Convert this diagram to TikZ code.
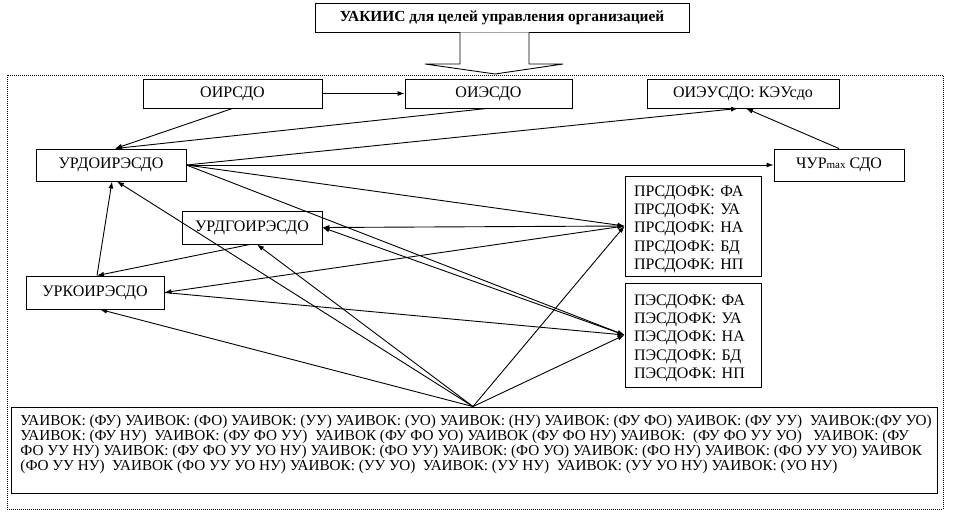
\documentclass[tikz,border=0pt]{standalone}
\usepackage{fontspec}
\setmainfont{Liberation Serif}
\usetikzlibrary{arrows.meta}
\newcommand\fsz{\fontsize{16}{18}\selectfont}
\newcommand\fszb{\fontsize{15.2}{16}\selectfont}
\begin{document}
\begin{tikzpicture}[x=1pt,y=-1pt, line width=0.9pt,
  box/.style={draw, rectangle, inner sep=0pt, font=\fsz},
  listbox/.style={draw, rectangle, inner xsep=9pt, inner ysep=0pt, align=left, text width=118pt, font=\fontsize{16}{18.3}\selectfont},
  txt/.style={anchor=base west, inner sep=0pt, font=\fszb},
  arr/.style={-{Latex[length=7pt,width=5pt]}},
  darr/.style={{Latex[length=7pt,width=5pt]}-{Latex[length=7pt,width=5pt]}}]
\useasboundingbox (0,0) rectangle (967,523);

% frame
\draw[dash pattern=on 1pt off 1pt, line width=0.7pt] (7,75) rectangle (943,509);

% title and block arrow
\node[box, font=\fontsize{15.4}{17}\selectfont\bfseries, minimum width=374pt, minimum height=29pt] (top) at (502,17.5) {УАКИИС для целей управления организацией};
\draw[fill=white] ([xshift=-42pt]top.south) -- (460,64) -- (425,64) -- (495,74) -- (563,64) -- (529,64) -- ([xshift=27pt]top.south);

% boxes
\node[box, minimum width=179pt, minimum height=29pt] (oirsdo) at (232.5,93.5) {ОИРСДО};
\node[box, minimum width=167pt, minimum height=29pt] (oiesdo) at (488.5,93.5) {ОИЭСДО};
\node[box, minimum width=192pt, minimum height=29pt] (oieusdo) at (743,93.5) {ОИЭУСДО: КЭУсдо};
\node[box, minimum width=150pt, minimum height=32pt] (urdo) at (111,165) {УРДОИРЭСДО};
\node[box, minimum width=130pt, minimum height=32pt] (chur) at (839,165) {ЧУР{\fontsize{11}{12}\selectfont max} СДО};
\node[box, minimum width=140pt, minimum height=33pt] (urdgo) at (252,227.5) {УРДГОИРЭСДО};
\node[box, minimum width=138pt, minimum height=33pt] (urko) at (95,292.5) {УРКОИРЭСДО};
\node[listbox, minimum height=100pt] (prs) at (693,226) {\rule{0pt}{17pt}ПРСДОФК: ФА\\ПРСДОФК: УА\\ПРСДОФК: НА\\ПРСДОФК: БД\\ПРСДОФК: НП};
\node[listbox, minimum height=104pt] (pes) at (693,335) {\rule{0pt}{17pt}ПЭСДОФК: ФА\\ПЭСДОФК: УА\\ПЭСДОФК: НА\\ПЭСДОФК: БД\\ПЭСДОФК: НП};
\node[draw, rectangle, minimum width=926pt, minimum height=86pt, inner sep=0pt] (bot) at (474,450) {};
\node[txt] (l1) at (20,425) {УАИВОК: (ФУ) УАИВОК: (ФО) УАИВОК: (УУ) УАИВОК: (УО) УАИВОК: (НУ) УАИВОК: (ФУ ФО) УАИВОК: (ФУ УУ) \ УАИВОК:(ФУ УО)};
\node[txt] (l2) at (20,440.3) {УАИВОК: (ФУ НУ) \ УАИВОК: (ФУ ФО УУ) \ УАИВОК (ФУ ФО УО) УАИВОК (ФУ ФО НУ) УАИВОК: \ (ФУ ФО УУ УО) \ \ УАИВОК: (ФУ};
\node[txt] (l3) at (20,455.6) {ФО УУ НУ) УАИВОК: (ФУ ФО УУ УО НУ) УАИВОК: (ФО УУ) УАИВОК: (ФО УО) УАИВОК: (ФО НУ) УАИВОК: (ФО УУ УО) УАИВОК};
\node[txt] (l4) at (20,470.9) {(ФО УУ НУ) \ УАИВОК (ФО УУ УО НУ) УАИВОК: (УУ УО) \ УАИВОК: (УУ НУ) \ УАИВОК: (УУ УО НУ) УАИВОК: (УО НУ)};

% connectors
\draw[arr] (oirsdo.east) -- (oiesdo.west);
\draw[arr] (oirsdo.south) -- ([xshift=4pt]urdo.north);
\draw[arr] ([xshift=-1.5pt]oiesdo.south) -- ([xshift=4pt]urdo.north);
\draw[arr] (urdo.east) -- ([xshift=-5pt]oieusdo.south);
\draw[arr] (chur.north) -- ([xshift=3pt]oieusdo.south);
\draw[arr] (urdo.east) -- (chur.west);
\draw[arr] (urdo.east) -- (prs.west);
\draw[arr] (urdo.east) -- (pes.west);
\draw[darr] (urdgo.east) -- (prs.west);
\draw[darr] (urdgo.east) -- (pes.west);
\draw[darr] (urko.east) -- (prs.west);
\draw[arr] (urko.east) -- (pes.west);
\draw[arr] ([xshift=-2pt]urdgo.south) -- ([xshift=2pt]urko.north);
\draw[arr] ([xshift=2pt]urko.north) -- ([xshift=1pt]urdo.south);
\draw[arr] ([xshift=-1pt]bot.north) -- ([xshift=5pt]urko.south);
\draw[arr] ([xshift=-1pt]bot.north) -- ([xshift=6pt]urdo.south);
\draw[arr] ([xshift=-1pt]bot.north) -- ([xshift=5pt]urdgo.south);
\draw[arr] ([xshift=-1pt]bot.north) -- (prs.west);
\draw[arr] ([xshift=-1pt]bot.north) -- (pes.west);
\end{tikzpicture}
\end{document}
